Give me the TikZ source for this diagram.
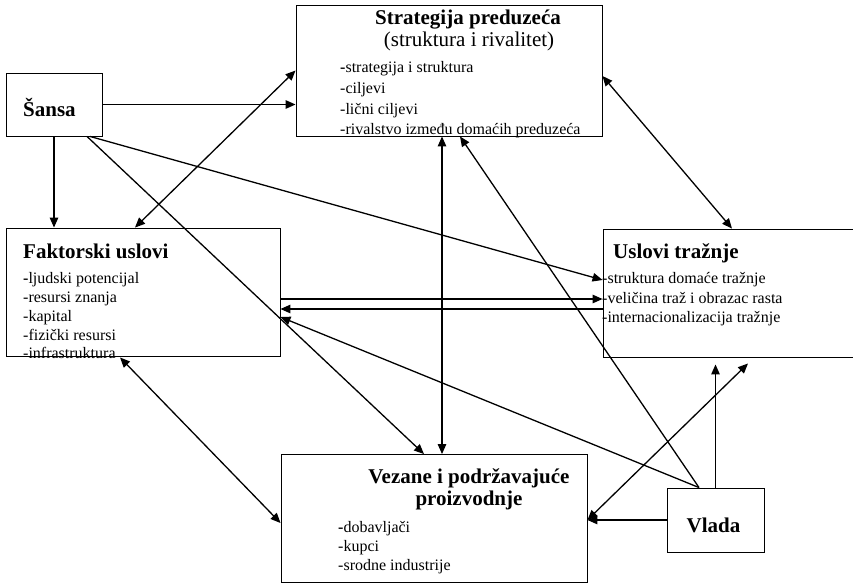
\documentclass[tikz,border=0pt]{standalone}
\usepackage{fontspec}
\setmainfont{Liberation Serif}
\usetikzlibrary{arrows.meta}
\begin{document}
\begin{tikzpicture}[x=1pt,y=-1pt,
  box/.style={draw, line width=0.9pt, inner sep=0pt},
  ttl/.style={font=\fontsize{21}{24}\selectfont\bfseries, inner sep=0pt},
  sub/.style={font=\fontsize{21}{24}\selectfont, inner sep=0pt},
  itm/.style={font=\fontsize{16}{18}\selectfont, inner sep=0pt, anchor=base west},
  conn/.style={line width=1.3pt, -{Triangle[length=10pt,width=8.5pt]}},
  dconn/.style={line width=1.3pt, {Triangle[length=10pt,width=8.5pt]}-{Triangle[length=10pt,width=8.5pt]}}]
\useasboundingbox (0,0) rectangle (853,583);
% boxes
\node[box, minimum width=306pt, minimum height=131pt] (strat) at (449,70.5) {};
\node[box, minimum width=96pt, minimum height=63pt] (sansa) at (54,104.5) {};
\node[box, minimum width=274pt, minimum height=128pt] (fakt) at (143,292) {};
\node[box, minimum width=250pt, minimum height=128pt] (uslovi) at (728,293) {};
\node[box, minimum width=306pt, minimum height=128pt] (vez) at (434,518.5) {};
\node[box, minimum width=97pt, minimum height=64pt] (vlada) at (715.5,520) {};
% texts
\node[ttl, anchor=base] (t1) at (468,25) {Strategija preduzeća};
\node[sub, anchor=base] (t1b) at (469,47) {(struktura i rivalitet)};
\node[itm] (s1) at (340,73) {\textbf{-}strategija i struktura};
\node[itm] (s2) at (340,93.5) {-ciljevi};
\node[itm] (s3) at (340,114) {-lični ciljevi};
\node[itm] (s4) at (340,135) {-rivalstvo između domaćih preduzeća};
\node[ttl, anchor=base west] (t2) at (23,117) {Šansa};
\node[ttl, anchor=base west] (t3) at (23,258) {Faktorski uslovi};
\node[itm] (f1) at (23,283) {\textbf{-}ljudski potencijal};
\node[itm] (f2) at (23,302) {-resursi znanja};
\node[itm] (f3) at (23,321) {-kapital};
\node[itm] (f4) at (23,340) {-fizički resursi};
\node[itm] (f5) at (23,358) {-infrastruktura};
\node[ttl, anchor=base west] (t4) at (613,258) {Uslovi tražnje};
\node[itm] (u1) at (602,283) {-struktura domaće tražnje};
\node[itm] (u2) at (602,303) {-veličina traž i obrazac rasta};
\node[itm] (u3) at (602,322) {-internacionalizacija tražnje};
\node[ttl, anchor=base] (t5) at (469,483) {Vezane i podržavajuće};
\node[ttl, anchor=base] (t5b) at (469,505) {proizvodnje};
\node[itm] (v1) at (338,532) {\textbf{-}dobavljači};
\node[itm] (v2) at (338,551) {-kupci};
\node[itm] (v3) at (338,570) {-srodne industrije};
\node[ttl, anchor=base] (t6) at (713.5,532) {Vlada};
% connectors
\draw[conn] (sansa.east) -- (sansa.east -| strat.west);
\draw[conn] (sansa.south) -- (sansa.south |- fakt.north);
\draw[dconn] ([xshift=-8pt]fakt.north) -- (strat.west);
\draw[conn] ([xshift=36pt]sansa.south) -- ([yshift=13pt]uslovi.west);
\draw[conn] ([xshift=33pt]sansa.south) -- ([xshift=-10pt]vez.north);
\draw[conn] ([yshift=-7pt]fakt.east) -- ([yshift=-7pt]fakt.east -| uslovi.west);
\draw[conn] ([yshift=-17pt]fakt.east -| uslovi.west) -- ([yshift=-17pt]fakt.east);
\draw[conn] ([xshift=-16.5pt]vlada.north) -- ([yshift=-25pt]fakt.east);
\draw[conn] ([xshift=-16.5pt]vlada.north) -- ([xshift=11pt]strat.south);
\draw[dconn] ([xshift=-7pt]strat.south) -- ([xshift=-7pt]strat.south |- vez.north);
\draw[dconn] ([yshift=-5.5pt]strat.east) -- ([xshift=4pt]uslovi.north);
\draw[dconn] ([xshift=-23pt,yshift=-1pt]fakt.south) -- ([yshift=-4.5pt]vez.west);
\draw[conn] (vlada.north) -- ([yshift=-7pt]uslovi.south -| vlada.north);
\draw[dconn] ([yshift=-1.5pt]vez.east) -- ([xshift=20pt,yshift=-6pt]uslovi.south);
\draw[conn] (vlada.west) -- (vlada.west -| vez.east);
\end{tikzpicture}
\end{document}
